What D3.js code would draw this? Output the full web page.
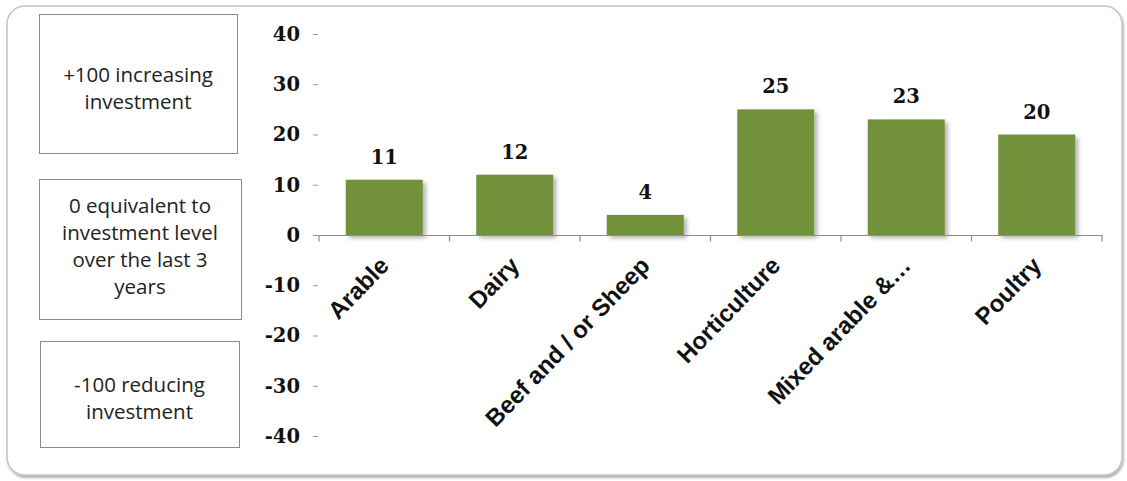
<!DOCTYPE html>
<html>
<head>
<meta charset="utf-8">
<script src="https://cdn.jsdelivr.net/npm/d3@7"></script>
<style>
  html, body { margin: 0; padding: 0; background: #ffffff; }
  svg { display: block; }
</style>
</head>
<body>
<svg id="chart" width="1127" height="481"></svg>
<script>
// Investment intentions by farm type (balance score, -100 to +100)
const categories = ["Arable", "Dairy", "Beef and / or Sheep", "Horticulture", "Mixed arable &\u2026", "Poultry"];
const values = [11, 12, 4, 25, 23, 20];
const yTicks = [40, 30, 20, 10, 0, -10, -20, -30, -40];
const noteLines = [
  ["+100 increasing", "investment"],
  ["0 equivalent to", "investment level", "over the last 3", "years"],
  ["-100 reducing", "investment"]
];

const svg = d3.select("#chart");

const defs = svg.append("defs");
const barShadow = defs.append("filter").attr("id", "barShadow")
  .attr("x", "-20%").attr("y", "-20%").attr("width", "150%").attr("height", "150%");
barShadow.append("feDropShadow").attr("dx", 3).attr("dy", 3)
  .attr("stdDeviation", 2).attr("flood-color", "#000").attr("flood-opacity", 0.3);
const frameShadow = defs.append("filter").attr("id", "frameShadow")
  .attr("x", "-5%").attr("y", "-5%").attr("width", "110%").attr("height", "115%");
frameShadow.append("feDropShadow").attr("dx", 1).attr("dy", 2)
  .attr("stdDeviation", 1.2).attr("flood-color", "#000").attr("flood-opacity", 0.35);

// Rounded chart frame
svg.append("rect")
  .attr("x", 7).attr("y", 6).attr("width", 1115).attr("height", 469)
  .attr("rx", 18).attr("ry", 18)
  .attr("fill", "#ffffff").attr("stroke", "#c4c4c4").attr("stroke-width", 1.5)
  .attr("filter", "url(#frameShadow)");

// Explanatory boxes on the left
const boxes = [
  { x: 39, y: 14, w: 198, h: 139, lineY: [82, 109] },
  { x: 39, y: 179, w: 202, h: 140, lineY: [213, 240, 267, 294] },
  { x: 40, y: 341, w: 199, h: 106, lineY: [392, 419] }
];
boxes.forEach((b, i) => {
  svg.append("rect")
    .attr("x", b.x + 0.5).attr("y", b.y + 0.5).attr("width", b.w).attr("height", b.h)
    .attr("fill", "none").attr("stroke", "#8a8a8a").attr("stroke-width", 1);
  noteLines[i].forEach((t, j) => {
    svg.append("text")
      .attr("x", b.x + b.w / 2).attr("y", b.lineY[j])
      .attr("text-anchor", "middle")
      .attr("font-family", "'Open Sans', sans-serif")
      .attr("font-size", 20.5)
      .attr("fill", "#222")
      .text(t);
  });
});

// Scales
const y = d3.scaleLinear().domain([-40, 40]).range([436, 34]);
const x = d3.scaleBand().domain(categories).range([319, 1102])
  .paddingInner(0.41).paddingOuter(0.205);

// Y axis: tick marks and labels only
const yAxis = svg.append("g")
  .attr("transform", "translate(318,0)")
  .call(d3.axisLeft(y).tickValues(yTicks).tickSize(5).tickPadding(13).tickFormat(d => String(d)));
yAxis.select(".domain").remove();
yAxis.selectAll(".tick line").attr("stroke", "#999");
yAxis.selectAll(".tick text")
  .attr("font-family", "'DejaVu Serif', serif")
  .attr("font-weight", "bold")
  .attr("font-size", 19.5)
  .attr("fill", "#111");

// Bars
svg.append("g").selectAll("rect")
  .data(categories)
  .join("rect")
  .attr("x", d => x(d))
  .attr("width", x.bandwidth())
  .attr("y", (d, i) => y(Math.max(0, values[i])))
  .attr("height", (d, i) => Math.abs(y(values[i]) - y(0)))
  .attr("fill", "#71923a")
  .attr("filter", "url(#barShadow)");

// X axis line with boundary ticks
const y0 = Math.round(y(0)) + 0.5;
svg.append("line")
  .attr("x1", 313).attr("x2", x.range()[1] + 1)
  .attr("y1", y0).attr("y2", y0)
  .attr("stroke", "#8c8c8c").attr("stroke-width", 1.2);
svg.append("g").selectAll("line")
  .data(d3.range(categories.length + 1))
  .join("line")
  .attr("x1", i => x.range()[0] + i * x.step())
  .attr("x2", i => x.range()[0] + i * x.step())
  .attr("y1", y0).attr("y2", y0 + 6)
  .attr("stroke", "#8c8c8c").attr("stroke-width", 1.2);

// Value labels above the bars
svg.append("g").selectAll("text")
  .data(categories)
  .join("text")
  .attr("x", d => x(d) + x.bandwidth() / 2)
  .attr("y", (d, i) => y(values[i]) - 16)
  .attr("text-anchor", "middle")
  .attr("font-family", "'DejaVu Serif', serif")
  .attr("font-weight", "bold")
  .attr("font-size", 19.5)
  .attr("fill", "#111")
  .text((d, i) => values[i]);

// Rotated category labels
svg.append("g").selectAll("text")
  .data(categories)
  .join("text")
  .attr("transform", d => `translate(${x(d) + x.bandwidth() / 2 + 6},${y(0) + 32}) rotate(-46)`)
  .attr("text-anchor", "end")
  .attr("font-family", "'Liberation Sans', Arial, sans-serif")
  .attr("font-weight", "bold")
  .attr("font-size", 24)
  .attr("fill", "#111")
  .text(d => d);
</script>
</body>
</html>
